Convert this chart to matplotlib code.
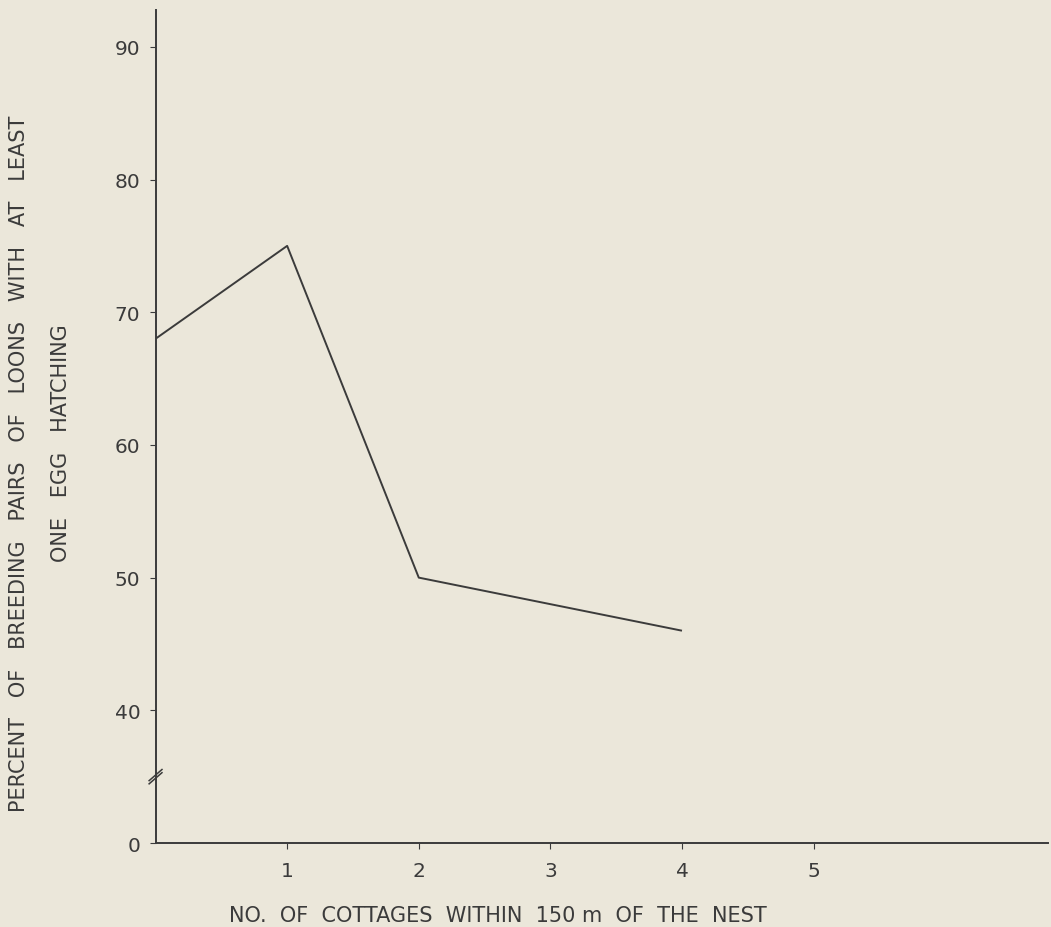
import numpy as np
import matplotlib
matplotlib.use("Agg")
import matplotlib.pyplot as plt
import matplotlib.transforms as mtransforms

# data
cottages = [0, 1, 2, 4]
pct_hatch = [68, 75, 50, 46]

xticks = [1, 2, 3, 4, 5]
xticklabels = ["1", "2", "3", "4", "5"]
# the bottom of the y axis is broken: 30 on the scale is drawn as "0"
yticks = [30, 40, 50, 60, 70, 80, 90]
yticklabels = ["0", "40", "50", "60", "70", "80", "90"]
ybreak = 35

bg = "#ebe7da"
ink = "#3b3b3b"

plt.rcParams["font.family"] = ["DejaVu Sans"]

fig = plt.figure(figsize=(10.51, 9.28), dpi=100, facecolor=bg)
ax = fig.add_axes([0.148, 0.0905, 0.849, 0.898])
ax.set_facecolor(bg)

ax.plot(cottages, pct_hatch, color=ink, lw=1.4, solid_capstyle="butt")

ax.set_xlim(0, 6.78)
ax.set_ylim(30, 92.8)

ax.set_xticks(xticks)
ax.set_xticklabels(xticklabels)
ax.set_yticks(yticks)
ax.set_yticklabels(yticklabels)
ax.tick_params(axis="both", direction="out", length=4, width=0.8, color=ink,
               labelcolor=ink, labelsize=14.5, pad=7)
ax.tick_params(axis="x", pad=9)

for s in ["top", "right"]:
    ax.spines[s].set_visible(False)
for s in ["left", "bottom"]:
    ax.spines[s].set_color(ink)
    ax.spines[s].set_linewidth(1.4)

# axis break marks  //
trans = mtransforms.blended_transform_factory(ax.transAxes, ax.transData)
dx = 0.0072
dy = 0.42
for off in [-0.12, 0.12]:
    ax.plot([-dx, dx], [ybreak - dy + off, ybreak + dy + off], color=ink,
            lw=1.1, transform=trans, clip_on=False)

fig.text(0.474, 0.002, "NO.  OF  COTTAGES  WITHIN  150 m  OF  THE  NEST",
         ha="center", va="bottom", fontsize=15, color=ink)
fig.text(0.018, 0.50, "PERCENT   OF   BREEDING   PAIRS   OF   LOONS   WITH   AT   LEAST",
         rotation=90, ha="center", va="center", fontsize=15, color=ink)
fig.text(0.058, 0.523, "ONE   EGG   HATCHING",
         rotation=90, ha="center", va="center", fontsize=15, color=ink)

fig.savefig("out.png", dpi=100, facecolor=bg)
